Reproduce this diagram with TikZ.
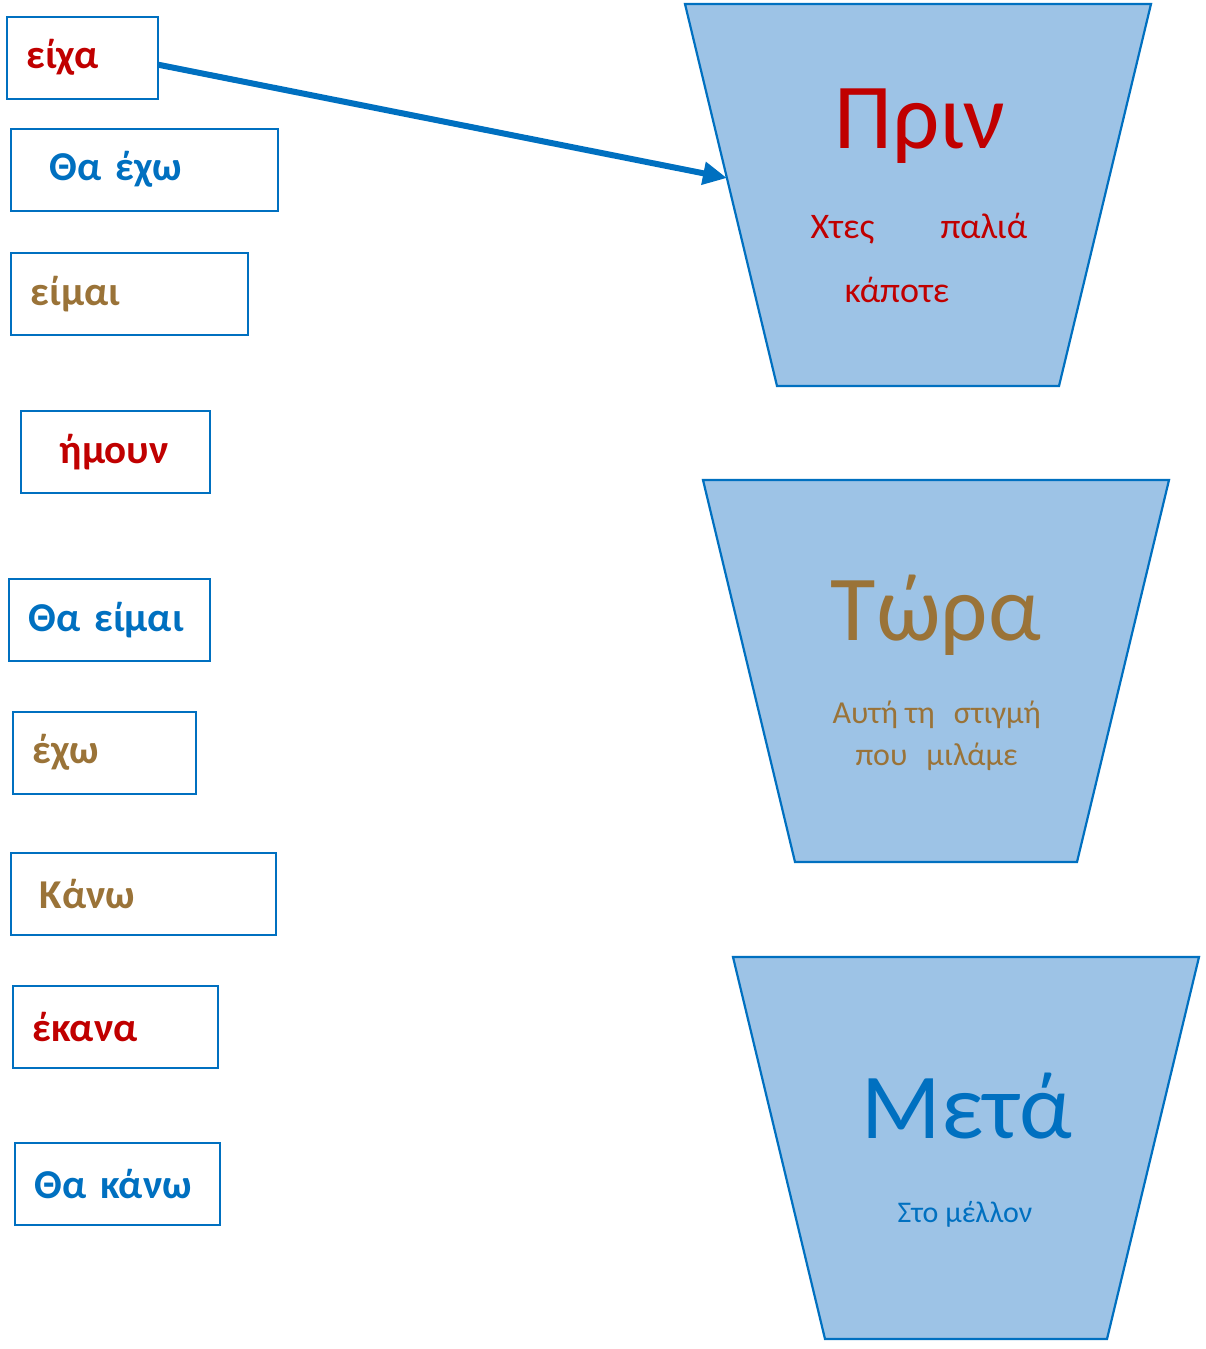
\documentclass[tikz,border=0pt]{standalone}
\usepackage{fontspec}
\setmainfont{Carlito}
\usepackage{xcolor}
\usetikzlibrary{arrows.meta,positioning}

\definecolor{pastred}{HTML}{C00000}
\definecolor{nowbrown}{HTML}{9A7338}
\definecolor{futblue}{HTML}{0070C0}
\definecolor{cupfill}{HTML}{9DC3E6}

\begin{document}
\begin{tikzpicture}[x=1pt, y=-1pt,
                   wordbox/.style={draw=futblue, line width=1.5pt, rectangle, anchor=north west,
                                   minimum height=82pt, align=left, inner ysep=0pt,
                                   font=\fontsize{41}{45}\selectfont\bfseries},
                   cup/.style={draw=futblue, line width=2.2pt, fill=cupfill},
                   bigword/.style={anchor=base, font=\fontsize{93}{100}\selectfont},
                   smallword/.style={anchor=base west, font=\fontsize{36}{40}\selectfont}]
          \useasboundingbox (0,0) rectangle (1205,1349);
          % word boxes
          \node[wordbox, inner xsep=20pt, text width=111pt, text=pastred] (eixa) at (6,16) {είχα};
          \node[wordbox, inner xsep=39pt, text width=189pt, text=futblue] (thaexo) at (10,128) {Θα έχω};
          \node[wordbox, inner xsep=20pt, text width=197pt, text=nowbrown] (eimai) at (10,252) {είμαι};
          \node[wordbox, inner xsep=39pt, text width=111pt, text=pastred] (imoun) at (20,410) {ήμουν};
          \node[wordbox, inner xsep=20pt, text width=161pt, text=futblue] (thaeimai) at (8,578) {Θα είμαι};
          \node[wordbox, inner xsep=20pt, text width=143pt, text=nowbrown] (exo) at (12,711) {έχω};
          \node[wordbox, inner xsep=29pt, text width=207pt, text=nowbrown] (kano) at (10,852) {Κάνω};
          \node[wordbox, inner xsep=20pt, text width=165pt, text=pastred] (ekana) at (12,985) {έκανα};
          \node[wordbox, inner xsep=20pt, text width=165pt, text=futblue] (thakano) at (14,1142) {Θα κάνω};
          % cups
          \draw[cup] (685,4) -- (1151,4) -- (1059,386) -- (777,386) -- cycle;
          \draw[cup] (703,480) -- (1169,480) -- (1077,862) -- (795,862) -- cycle;
          \draw[cup] (733,957) -- (1199,957) -- (1107,1339) -- (825,1339) -- cycle;
          \coordinate (prinL) at (727,178);
          % texts in the cups
          \node[bigword, text=pastred] (prin) at (920,148) {Πριν};
          \node[smallword, text=pastred] (xtes) at (807,238) {Χτες};
          \node[smallword, text=pastred] (palia) at (937,238) {παλιά};
          \node[smallword, text=pastred] (kapote) at (841,302) {κάποτε};
          \node[bigword, text=nowbrown] (tora) at (936,640) {Τώρα};
          \node[smallword, font=\fontsize{32}{36}\selectfont, text=nowbrown] (stigmi) at (829,723) {Αυτή τη\hspace{19pt}στιγμή};
          \node[smallword, font=\fontsize{32}{36}\selectfont, text=nowbrown] (milame) at (852,765) {που\hspace{19pt}μιλάμε};
          \node[bigword, text=futblue] (meta) at (967,1138) {Μετά};
          \node[anchor=base, font=\fontsize{30}{34}\selectfont, text=futblue] (mellon) at (965,1222) {Στο μέλλον};
          % arrow
          \draw[futblue, line width=6pt, -{Triangle[length=24pt,width=22pt]}] ([yshift=-7pt]eixa.east) -- (prinL);
        \end{tikzpicture}
\end{document}
